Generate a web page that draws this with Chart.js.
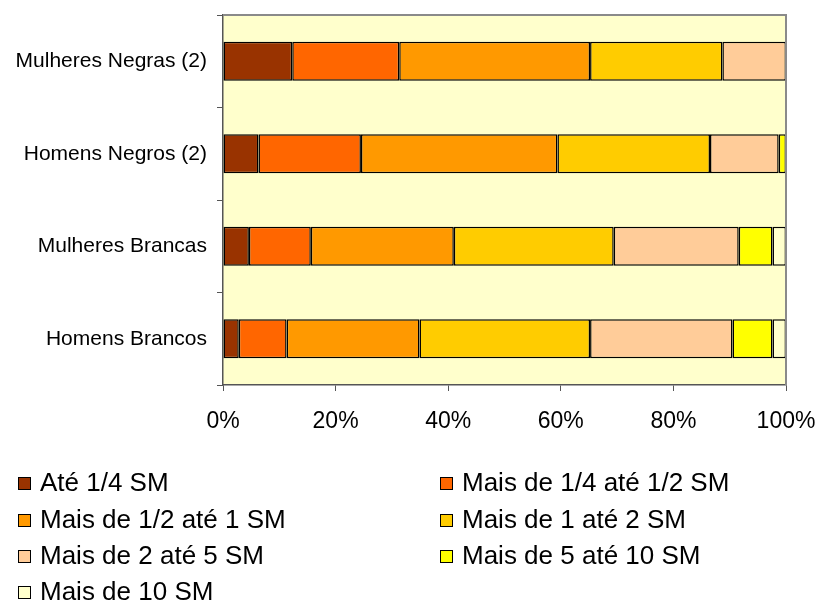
<!DOCTYPE html>
<html>
<head>
<meta charset="utf-8">
<script src="https://cdn.jsdelivr.net/npm/chart.js@4/dist/chart.umd.min.js"></script>
<style>
html,body{margin:0;padding:0;background:#fff;}
#wrap{width:815px;height:603px;position:relative;}
</style>
</head>
<body>
<div id="wrap"><canvas id="c" width="815" height="603"></canvas></div>
<script>
const categories = ["Mulheres Negras (2)", "Homens Negros (2)", "Mulheres Brancas", "Homens Brancos"];
const seriesNames = ["Até 1/4 SM", "Mais de 1/4 até 1/2 SM", "Mais de 1/2 até 1 SM", "Mais de 1 até 2 SM", "Mais de 2 até 5 SM", "Mais de 5 até 10 SM", "Mais de 10 SM"];
const ate14 =     [12.3, 6.3, 4.6, 2.8];
const de14a12 =   [19.0, 18.2, 11.0, 8.5];
const de12a1 =    [33.9, 34.9, 25.4, 23.6];
const de1a2 =     [23.5, 27.1, 28.4, 30.3];
const de2a5 =     [11.3, 12.2, 22.2, 25.3];
const de5a10 =    [0, 1.3, 6.0, 7.1];
const mais10 =    [0, 0, 2.4, 2.4];
const xTicks = [0, 20, 40, 60, 80, 100];
const colors = ["#993300", "#FF6600", "#FF9900", "#FFCC00", "#FFCC99", "#FFFF00", "#FFFFCC"];
const seriesValues = [ate14, de14a12, de12a1, de1a2, de2a5, de5a10, mais10];

const FONT = "'Liberation Sans', Arial, sans-serif";

const bgPlugin = {
  id: 'bg',
  beforeDraw(chart) {
    const {ctx, chartArea: a} = chart;
    ctx.save();
    ctx.fillStyle = '#FFFFCC';
    ctx.fillRect(a.left, a.top, a.right - a.left, a.bottom - a.top);
    ctx.restore();
  },
  afterDatasetsDraw(chart) {
    const {ctx, chartArea: a} = chart;
    ctx.save();
    ctx.strokeStyle = '#8a8a8a';
    ctx.lineWidth = 2;
    ctx.beginPath();
    ctx.moveTo(a.left, a.top);
    ctx.lineTo(a.right, a.top);
    ctx.lineTo(a.right, a.bottom);
    ctx.stroke();
    ctx.restore();
  },
  afterDraw(chart) {
    const ctx = chart.ctx;
    ctx.save();
    ctx.font = "26px " + FONT;
    ctx.textBaseline = 'middle';
    ctx.fillStyle = '#000';
    const rows = [483, 520, 556, 592];
    const cols = [18, 440];
    chart.data.datasets.forEach((ds, i) => {
      const r = Math.floor(i / 2), c = i % 2;
      const x = cols[c], y = rows[r];
      ctx.fillStyle = ds.backgroundColor;
      ctx.fillRect(x, y - 6, 13, 13);
      ctx.strokeStyle = '#000';
      ctx.lineWidth = 1;
      ctx.strokeRect(x + 0.5, y - 5.5, 12, 12);
      ctx.fillStyle = '#000';
      ctx.fillText(ds.label, x + 22, y + 1);
    });
    ctx.restore();
  }
};

const datasets = seriesNames.map((name, i) => ({
  label: name,
  data: seriesValues[i],
  backgroundColor: colors[i],
  borderColor: '#000',
  borderWidth: 1.5,
  borderSkipped: false,
  barPercentage: 0.42,
  categoryPercentage: 1.0
}));

new Chart(document.getElementById('c'), {
  type: 'bar',
  data: { labels: categories, datasets },
  options: {
    indexAxis: 'y',
    responsive: false,
    animation: false,
    devicePixelRatio: 1,
    layout: { padding: { left: 0, top: 15, right: 29, bottom: 160 } },
    plugins: { legend: { display: false }, tooltip: { enabled: false } },
    scales: {
      x: {
        stacked: true,
        min: 0, max: 100,
        afterBuildTicks(scale) { scale.ticks = xTicks.map(v => ({ value: v })); },
        afterFit(scale) { scale.height = 58; scale.paddingLeft = 0; scale.paddingRight = 0; },
        ticks: {
          callback: v => v + '%',
          color: '#000',
          font: { family: FONT, size: 23 },
          padding: 17,
          maxRotation: 0
        },
        grid: { drawOnChartArea: false, drawTicks: true, tickLength: 6, color: '#555', lineWidth: 1 },
        border: { display: true, color: '#555', width: 1.5 }
      },
      y: {
        stacked: true,
        afterFit(scale) { scale.width = 223; scale.paddingTop = 0; scale.paddingBottom = 0; },
        ticks: {
          color: '#000',
          font: { family: FONT, size: 21 },
          padding: 10
        },
        grid: { offset: true, drawOnChartArea: false, drawTicks: true, tickLength: 6, color: '#555', lineWidth: 1 },
        border: { display: true, color: '#555', width: 1.5 }
      }
    }
  },
  plugins: [bgPlugin]
});
</script>
</body>
</html>
